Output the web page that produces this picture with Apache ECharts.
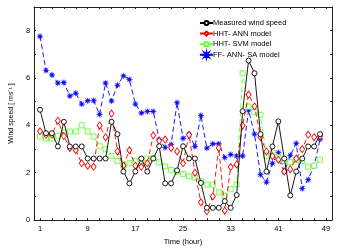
<!DOCTYPE html>
<html>
<head>
<meta charset="utf-8">
<script src="https://cdn.jsdelivr.net/npm/echarts@6/dist/echarts.min.js"></script>
<style>
html,body{margin:0;padding:0;background:#fff;}
#c{width:338px;height:251px;}
</style>
</head>
<body>
<div id="c"></div>
<script>
var hours = [];
for (var h = 1; h <= 48; h++) hours.push(h);
var xTickValues = [1,3,5,7,9,11,13,15,17,19,21,23,25,27,29,31,33,35,37,39,41,43,45,47,49];
var xLabelValues = [1,9,17,25,33,41,49];
var yLabelValues = [0,2,4,6,8];

var measured = [4.66,3.67,3.67,3.11,4.15,3.11,3.11,3.11,2.6,2.6,
                2.6,2.6,4.15,3.63,2.05,1.55,2.05,2.6,2.05,2.6,
                3.12,1.55,1.55,2.1,3.12,2.6,2.6,1.57,0.52,0.52,
                0.52,0.8,0.52,1.06,4.6,6.74,6.2,3.63,2.05,3.11,
                4.17,2.6,1.04,2.05,2.6,3.11,3.11,3.63];
var hhtAnn = [3.75,3.6,3.6,4.2,3.55,3.05,2.95,2.4,2.3,2.25,
              4.0,3.5,4.5,2.9,2.3,2.95,2.3,2.25,2.4,3.58,
              3.35,3.4,3.05,2.9,2.4,3.6,2.0,0.75,0.37,1.0,
              3.05,0.4,2.24,2.35,4.0,5.3,4.8,3.5,2.9,2.7,
              2.55,2.05,2.15,2.6,3.0,3.6,3.5,3.55];
var hhtSvm = [3.53,3.45,3.45,3.56,3.7,3.74,3.74,4.0,3.74,3.53,
              3.12,2.99,2.71,2.5,2.3,2.4,2.5,2.5,2.6,2.63,
              2.44,2.27,2.12,2.05,1.95,1.85,1.79,1.64,1.5,1.5,
              1.17,1.03,1.3,1.51,6.2,4.79,4.56,4.45,2.7,2.85,
              2.65,2.5,2.45,2.55,2.5,2.25,2.3,2.55];
var ffAnnSa = [7.76,6.32,6.13,5.79,5.81,5.24,5.36,4.9,5.04,5.05,
               4.46,5.79,5.03,5.7,6.09,5.94,4.9,4.52,4.59,4.59,
               3.4,3.07,3.19,4.96,3.45,3.63,3.11,4.42,3.04,3.22,
               3.22,2.64,2.77,2.71,2.71,4.65,3.63,1.92,1.6,2.4,
               2.85,2.03,2.74,3.24,1.33,1.71,2.3,3.42];

function pairs(arr){ return arr.map(function(v,i){ return [hours[i], v]; }); }

// 8-armed asterisk-like star
function starPath(){
  var pts = [];
  for (var i = 0; i < 16; i++) {
    var a = Math.PI * i / 8 - Math.PI/2;
    var r = (i % 2 === 0) ? 10 : 3.4;
    pts.push((10 + r*Math.cos(a)).toFixed(2) + ',' + (10 + r*Math.sin(a)).toFixed(2));
  }
  return 'path://M' + pts.join('L') + 'Z';
}

var font = 'Liberation Sans, Arial, sans-serif';
var axisCol = '#222';
var chart = echarts.init(document.getElementById('c'), null, {renderer:'canvas'});
var option = {
  animation: false,
  backgroundColor: '#fff',
  grid: {left: 20, right: 6, top: 7, bottom: 24, containLabel: false},
  legend: {
    orient: 'vertical',
    left: 199, top: 19, padding: 0,
    itemWidth: 13, itemHeight: 5, itemGap: 2.6,
    textStyle: {fontFamily: font, fontSize: 7.5, color: '#000', padding: [0,0,0,-5]},
    data: ['Measured wind speed','HHT- ANN model','HHT- SVM model','FF- ANN- SA model']
  },
  xAxis: [{
    type: 'value', min: 0, max: 50,
    name: 'Time (hour)', nameLocation: 'middle', nameGap: 16,
    nameTextStyle: {fontFamily: font, fontSize: 7.5, color: '#000'},
    axisLine: {show: true, onZero: false, lineStyle: {color: axisCol, width: 1}},
    axisTick: {show: true, inside: true, length: 2, customValues: xTickValues, lineStyle: {color: axisCol}},
    axisLabel: {fontFamily: font, fontSize: 7.5, color: '#000', margin: 5, customValues: xLabelValues},
    splitLine: {show: false}
  },{
    type: 'value', min: 0, max: 50, position: 'top',
    axisLine: {show: true, onZero: false, lineStyle: {color: axisCol, width: 1}},
    axisTick: {show: true, inside: true, length: 2, customValues: xTickValues, lineStyle: {color: axisCol}},
    axisLabel: {show: false},
    splitLine: {show: false}
  }],
  yAxis: [{
    type: 'value', min: 0, max: 9, interval: 1,
    name: 'Wind speed [ ms\u207B\u00B9 ]', nameLocation: 'middle', nameGap: 15.5,
    nameTextStyle: {fontFamily: font, fontSize: 7, color: '#000'},
    axisLine: {show: true, onZero: false, lineStyle: {color: axisCol, width: 1}},
    axisTick: {show: true, inside: true, length: 2, lineStyle: {color: axisCol}},
    axisLabel: {fontFamily: font, fontSize: 7.5, color: '#000', margin: 4, customValues: yLabelValues},
    splitLine: {show: false}
  },{
    type: 'value', min: 0, max: 9, interval: 1, position: 'right',
    axisLine: {show: true, onZero: false, lineStyle: {color: axisCol, width: 1}},
    axisTick: {show: true, inside: true, length: 2, lineStyle: {color: axisCol}},
    axisLabel: {show: false},
    splitLine: {show: false}
  }],
  series: [{
    name: 'Measured wind speed', type: 'line', data: pairs(measured),
    symbol: 'circle', symbolSize: 5, z: 4,
    lineStyle: {color: '#000', width: 0.9},
    itemStyle: {color: '#fff', borderColor: '#000', borderWidth: 0.9}
  },{
    name: 'HHT- ANN model', type: 'line', data: pairs(hhtAnn),
    symbol: 'diamond', symbolSize: [5, 7], z: 3,
    lineStyle: {color: '#ff0000', width: 0.9, type: [5, 3]},
    itemStyle: {color: '#fff', borderColor: '#ff0000', borderWidth: 0.9}
  },{
    name: 'HHT- SVM model', type: 'line', data: pairs(hhtSvm),
    symbol: 'rect', symbolSize: 5, z: 2,
    lineStyle: {color: '#66ff33', width: 0.9, type: [5, 3]},
    itemStyle: {color: '#fff', borderColor: '#66ff33', borderWidth: 0.9}
  },{
    name: 'FF- ANN- SA model', type: 'line', data: pairs(ffAnnSa),
    symbol: starPath(), symbolSize: 6, z: 1,
    lineStyle: {color: '#0000ff', width: 0.9, type: [5, 3]},
    itemStyle: {color: '#0000ff', borderColor: '#0000ff', borderWidth: 0.4}
  }]
};
chart.setOption(option);
</script>
</body>
</html>
